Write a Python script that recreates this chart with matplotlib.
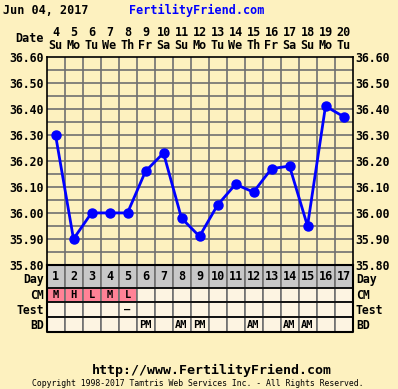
import numpy as np
import matplotlib
matplotlib.use('Agg')
import matplotlib.pyplot as plt
from matplotlib.patches import Rectangle

# data
days = list(range(1, 18))
dates = [4, 5, 6, 7, 8, 9, 10, 11, 12, 13, 14, 15, 16, 17, 18, 19, 20]
weekdays = ['Su', 'Mo', 'Tu', 'We', 'Th', 'Fr', 'Sa', 'Su', 'Mo', 'Tu', 'We', 'Th', 'Fr', 'Sa', 'Su', 'Mo', 'Tu']
temps = [36.30, 35.90, 36.00, 36.00, 36.00, 36.16, 36.23, 35.98, 35.91, 36.03,
         36.11, 36.08, 36.17, 36.18, 35.95, 36.41, 36.37]
cm = ['M', 'H', 'L', 'M', 'L', '', '', '', '', '', '', '', '', '', '', '', '']
test = ['', '', '', '', '-', '', '', '', '', '', '', '', '', '', '', '', '']
bd = ['', '', '', '', '', 'PM', '', 'AM', 'PM', '', '', 'AM', '', 'AM', 'AM', '', '']
yticks = [35.80, 35.90, 36.00, 36.10, 36.20, 36.30, 36.40, 36.50, 36.60]

bg = '#fdf1bf'
cell = '#fdf4e2'
grid_c = '#707070'
font = 'DejaVu Sans Mono'

W, H = 398, 389
fig = plt.figure(figsize=(W / 100, H / 100), dpi=100, facecolor=bg)

def px_axes(x0, y0, x1, y1):
    return fig.add_axes([x0 / W, 1 - y1 / H, (x1 - x0) / W, (y1 - y0) / H])

# temperature chart
ax = px_axes(46.5, 56.7, 352.5, 265)
ax.set_facecolor(bg)
ax.set_xlim(0.5, 17.5)
ax.set_ylim(35.80, 36.60)
for x in np.arange(1.5, 17.5, 1):
    ax.axvline(x, color=grid_c, lw=1.2, zorder=1)
for y in np.arange(35.85, 36.60, 0.05):
    ax.axhline(y, color=grid_c, lw=1.2, zorder=1)
ax.plot(days, temps, color='#0000ff', lw=2, marker='o', ms=6.5, zorder=3)
ax.set_xticks([])
ax.set_yticks(yticks)
ax.set_yticklabels([f'{v:.2f}' for v in yticks], fontfamily=font, fontweight='bold', fontsize=8.3)
ax.tick_params(axis='y', length=0, pad=2, labelright=True)
for s in ax.spines.values():
    s.set_color('black')
    s.set_linewidth(1.2)
ax.spines['bottom'].set_visible(False)

# date header
for d, dt, wd in zip(days, dates, weekdays):
    ax.text(d, 36.60 + 24 / 260, str(dt), ha='center', va='center',
            fontfamily=font, fontweight='bold', fontsize=8.5, clip_on=False)
    ax.text(d, 36.60 + 11 / 260, wd, ha='center', va='center',
            fontfamily=font, fontweight='bold', fontsize=8.5, clip_on=False)
fig.text(44 / W, 1 - 39 / H, 'Date', ha='right', va='center',
         fontfamily=font, fontweight='bold', fontsize=8.5)

# table below chart
tb = px_axes(46.5, 265, 352.5, 332.5)
tb.set_xlim(0.5, 17.5)
tb.set_ylim(332.5, 265)
tb.axis('off')
rows = [('Day', 265, 288), ('CM', 288, 302.5), ('Test', 302.5, 317.5), ('BD', 317.5, 332.5)]
for name, y0, y1 in rows:
    for i, d in enumerate(days):
        if name == 'Day':
            fc = '#c8c8c8'
            txt = str(d)
        elif name == 'CM':
            fc = '#ff8296' if cm[i] else cell
            txt = cm[i]
        elif name == 'Test':
            fc = cell
            txt = '\u2013' if test[i] else ''
        else:
            fc = cell
            txt = bd[i]
        tb.add_patch(Rectangle((d - 0.5, y0), 1, y1 - y0, facecolor=fc,
                               edgecolor=grid_c, lw=1.2, zorder=1))
        if txt:
            tb.text(d, (y0 + y1) / 2, txt, ha='center', va='center',
                    fontfamily=font, fontweight='bold',
                    fontsize=8.5 if name == 'Day' else 7.5, zorder=3)
    yl = 279.5 if name == 'Day' else (y0 + y1) / 2 + 0.5
    for xl, ha in ((44, 'right'), (356, 'left')):
        fig.text(xl / W, 1 - yl / H, name, ha=ha, va='center',
                 fontfamily=font, fontweight='bold', fontsize=8.3)
    tb.plot([0.5, 17.5], [y0, y0], color='black', lw=1.2, zorder=4, clip_on=False)
tb.plot([0.5, 0.5, 17.5, 17.5], [265, 332.5, 332.5, 265], color='black', lw=1.5, zorder=4, clip_on=False)
tb.plot([0.5, 17.5], [265, 265], color='black', lw=1.5, zorder=4, clip_on=False)

# titles
fig.text(3 / W, 1 - 10 / H, 'Jun 04, 2017', ha='left', va='center',
         fontfamily=font, fontweight='bold', fontsize=8.5)
fig.text(197 / W, 1 - 10 / H, 'FertilityFriend.com', ha='center', va='center',
         fontfamily=font, fontweight='bold', fontsize=8.5, color='#0000ff')
fig.text(212 / W, 1 - 370 / H, 'http://www.FertilityFriend.com', ha='center', va='center',
         fontfamily=font, fontweight='bold', fontsize=9.5)
fig.text(198 / W, 1 - 383 / H, 'Copyright 1998-2017 Tamtris Web Services Inc. - All Rights Reserved.',
         ha='center', va='center', fontfamily=font, fontsize=5.9)

fig.savefig('out.png', dpi=100, facecolor=bg)
